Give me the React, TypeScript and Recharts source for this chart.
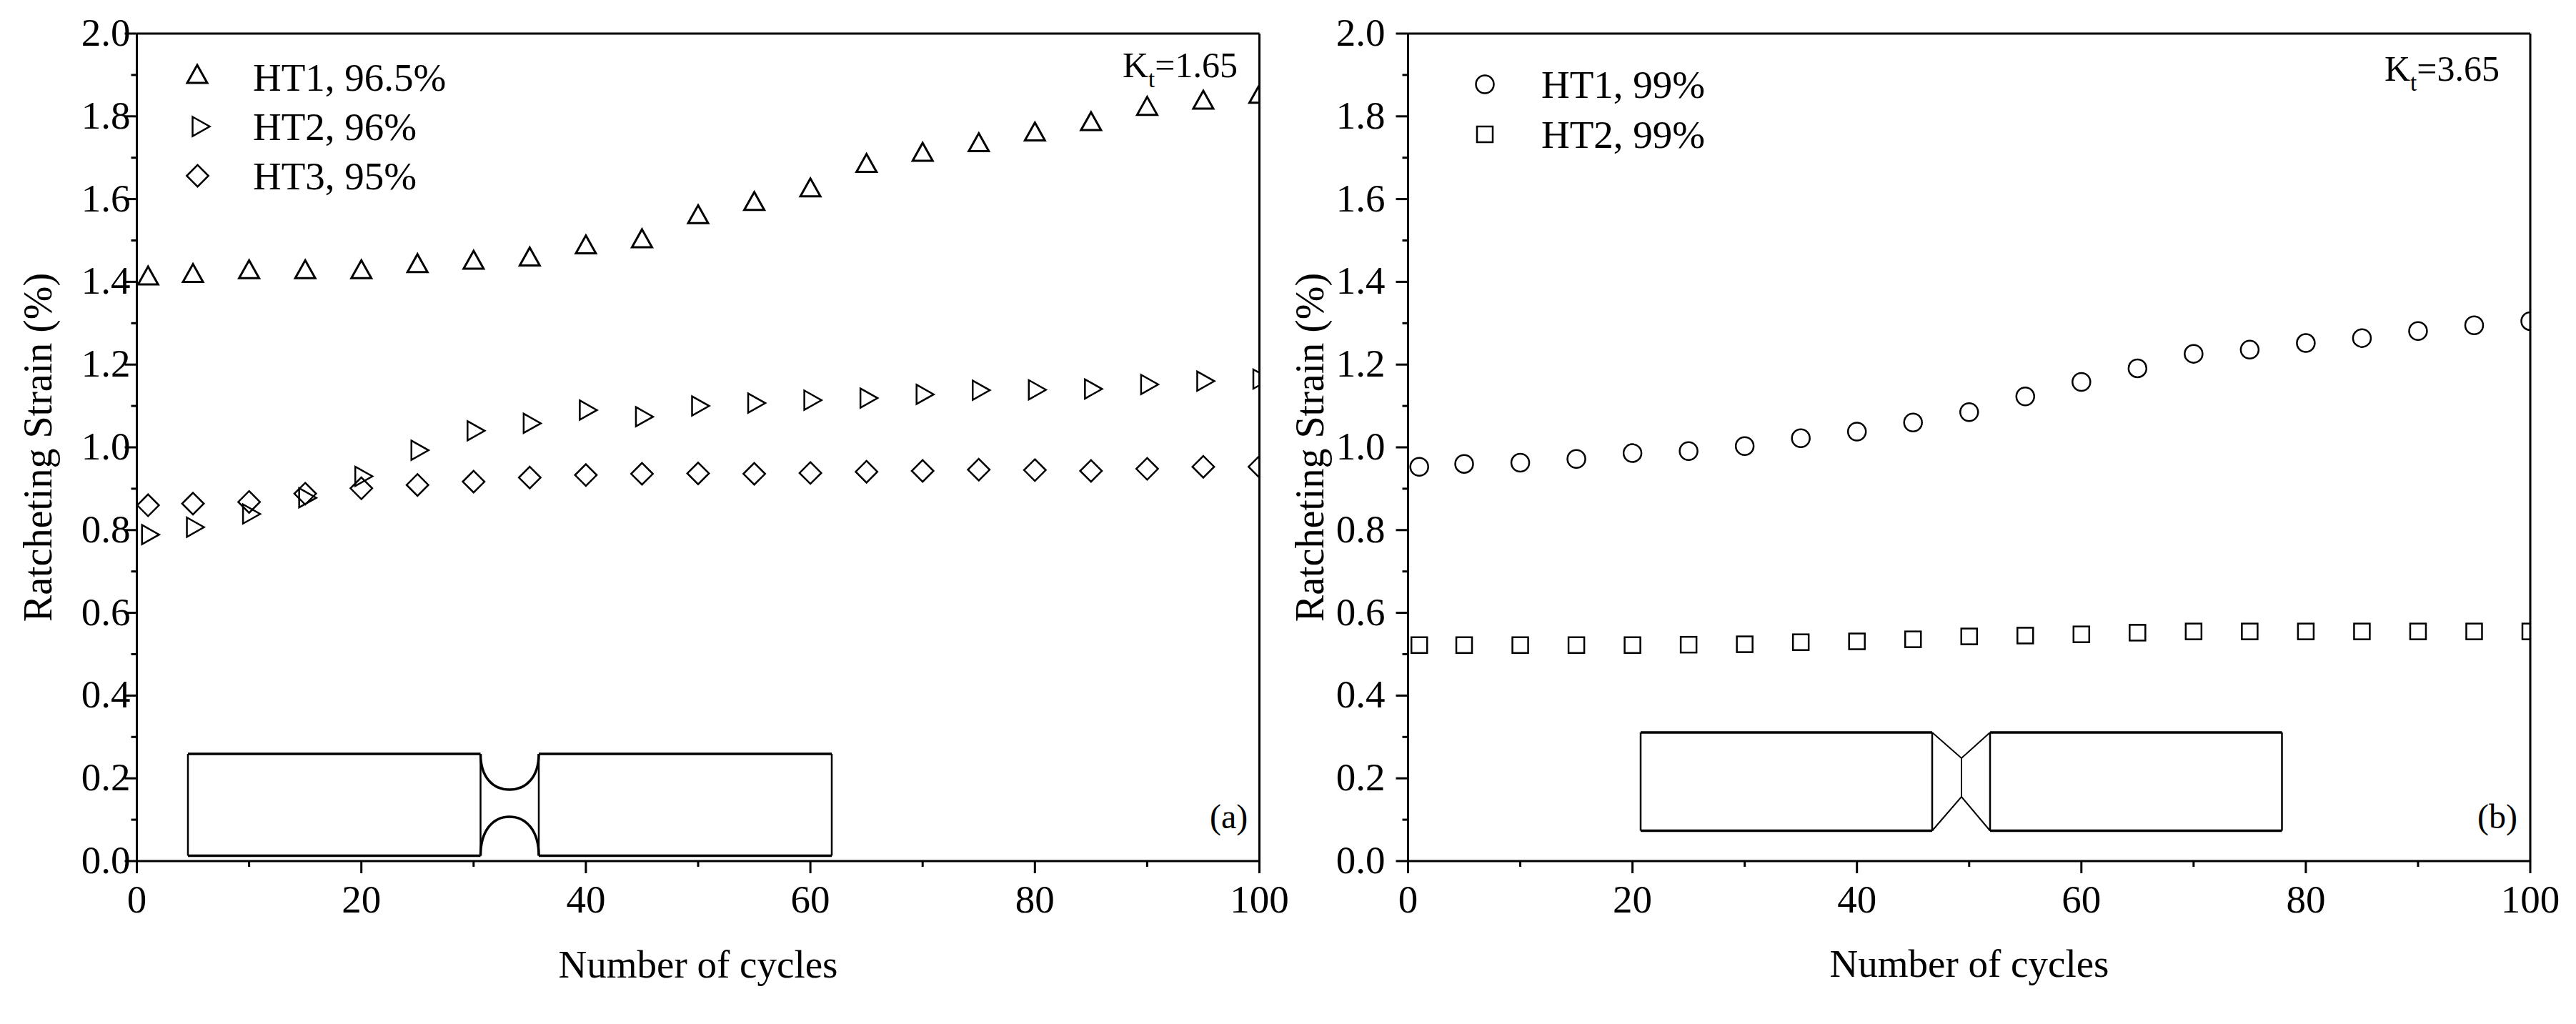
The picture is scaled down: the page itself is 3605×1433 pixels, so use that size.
import React from 'react';
import { ScatterChart, Scatter, XAxis, YAxis, ReferenceLine } from 'recharts';

const cycles = [1, 5, 10, 15, 20, 25, 30, 35, 40, 45, 50, 55, 60, 65, 70, 75, 80, 85, 90, 95, 100];

// panel (a), Kt=1.65
const ht1A = [1.411, 1.417, 1.426, 1.426, 1.426, 1.441, 1.449, 1.457, 1.486, 1.501, 1.559, 1.591, 1.624, 1.683, 1.71, 1.733, 1.759, 1.784, 1.821, 1.836, 1.85];
const ht2A = [0.789, 0.807, 0.839, 0.878, 0.93, 0.993, 1.04, 1.058, 1.09, 1.074, 1.1, 1.107, 1.114, 1.119, 1.128, 1.138, 1.139, 1.141, 1.152, 1.16, 1.165];
const ht3A = [0.86, 0.864, 0.868, 0.888, 0.901, 0.909, 0.917, 0.927, 0.933, 0.936, 0.937, 0.936, 0.938, 0.941, 0.943, 0.946, 0.945, 0.943, 0.948, 0.953, 0.953];

// panel (b), Kt=3.65
const ht1B = [0.953, 0.96, 0.963, 0.972, 0.986, 0.991, 1.003, 1.022, 1.038, 1.06, 1.085, 1.123, 1.158, 1.191, 1.226, 1.236, 1.252, 1.264, 1.281, 1.295, 1.305];
const ht2B = [0.522, 0.522, 0.522, 0.522, 0.522, 0.523, 0.524, 0.529, 0.531, 0.536, 0.543, 0.545, 0.548, 0.552, 0.555, 0.555, 0.555, 0.555, 0.555, 0.555, 0.555];

const xTicks = [0, 10, 20, 30, 40, 50, 60, 70, 80, 90, 100];
const xLabels = [0, 20, 40, 60, 80, 100];
const yTicks = [0, 0.1, 0.2, 0.3, 0.4, 0.5, 0.6, 0.7, 0.8, 0.9, 1, 1.1, 1.2, 1.3, 1.4, 1.5, 1.6, 1.7, 1.8, 1.9, 2];
const yLabels = [0, 0.2, 0.4, 0.6, 0.8, 1, 1.2, 1.4, 1.6, 1.8, 2];

const legendA = ['HT1, 96.5%', 'HT2, 96%', 'HT3, 95%'];
const legendB = ['HT1, 99%', 'HT2, 99%'];

const FONT = '"Liberation Serif", "Times New Roman", serif';
const HEIGHT = 1433;

const points = (values: number[]) => values.map((y, i) => ({ x: cycles[i], y }));

const UpTriangle = ({ cx, cy }: any) => (
    <path d="M0,-15 L14,10 L-14,10 Z" transform={`translate(${cx},${cy})`} fill="none" stroke="#000" strokeWidth={3} />
);
const RightTriangle = ({ cx, cy }: any) => (
    <path d="M-8.5,-13.5 L15.5,0 L-8.5,13.5 Z" transform={`translate(${cx},${cy})`} fill="none" stroke="#000" strokeWidth={2.5} />
);
const Diamond = ({ cx, cy }: any) => (
    <path d="M0,-15.2 L15.2,0 L0,15.2 L-15.2,0 Z" transform={`translate(${cx},${cy})`} fill="none" stroke="#000" strokeWidth={2.5} />
);
const Circle = ({ cx, cy }: any) => <circle cx={cx} cy={cy} r={12.5} fill="none" stroke="#000" strokeWidth={2.5} />;
const Square = ({ cx, cy }: any) => (
    <rect x={cx - 11} y={cy - 11} width={22} height={22} fill="none" stroke="#000" strokeWidth={2.5} />
);

const XTick = ({ x, y, payload }: any) => {
    const major = xLabels.includes(payload.value);
    return (
        <g>
            <line x1={x} x2={x} y1={y} y2={y + (major ? 17 : 8)} stroke="#000" strokeWidth={3} />
            {major && (
                <text x={x} y={y + 72} textAnchor="middle" fontFamily={FONT} fontSize={55} fill="#000">
                    {payload.value}
                </text>
            )}
        </g>
    );
};

const YTick = ({ x, y, payload, gap }: any) => {
    const major = yLabels.includes(payload.value);
    return (
        <g>
            <line x1={x} x2={x - (major ? 17 : 8)} y1={y} y2={y} stroke="#000" strokeWidth={3} />
            {major && (
                <text x={x - gap} y={y + 17} textAnchor="end" fontFamily={FONT} fontSize={55} fill="#000">
                    {payload.value.toFixed(1)}
                </text>
            )}
        </g>
    );
};

const Txt = ({ children, ...rest }: any) => (
    <text fontFamily={FONT} fontSize={55} fill="#000" {...rest}>
        {children}
    </text>
);

const Frame = ({ width, left, right, gap, children }: any) => (
    <ScatterChart width={width} height={HEIGHT} margin={{ top: 47, left: 0, right: width - right, bottom: 0 }}>
        <XAxis
            dataKey="x"
            type="number"
            domain={[0, 100]}
            ticks={xTicks}
            interval={0}
            allowDataOverflow
            height={HEIGHT - 1205}
            tickSize={0}
            tickMargin={0}
            tickLine={false}
            axisLine={{ stroke: '#000', strokeWidth: 3 }}
            tick={<XTick />}
        />
        <YAxis
            dataKey="y"
            type="number"
            domain={[0, 2]}
            ticks={yTicks}
            interval={0}
            allowDataOverflow
            width={left}
            tickSize={0}
            tickMargin={0}
            tickLine={false}
            axisLine={{ stroke: '#000', strokeWidth: 3 }}
            tick={<YTick gap={gap} />}
        />
        <ReferenceLine y={2} stroke="#000" strokeWidth={3} />
        <ReferenceLine x={100} stroke="#000" strokeWidth={3} />
        {children}
    </ScatterChart>
);

export default function App() {
    return (
        <div style={{ position: 'absolute', left: 0, top: 0, width: 3605, height: HEIGHT, overflow: 'hidden', background: '#fff' }}>
            {/* (a) */}
            <div style={{ position: 'absolute', left: 0, top: 0 }}>
                <Frame width={1810} left={191.5} right={1762.5} gap={9}>
                    <Scatter name="HT1" data={points(ht1A)} shape={<UpTriangle />} isAnimationActive={false} />
                    <Scatter name="HT2" data={points(ht2A)} shape={<RightTriangle />} isAnimationActive={false} />
                    <Scatter name="HT3" data={points(ht3A)} shape={<Diamond />} isAnimationActive={false} />

                    <UpTriangle cx={276} cy={106} />
                    <RightTriangle cx={278} cy={177} />
                    <Diamond cx={276.5} cy={246} />
                    <Txt x={354} y={127}>{legendA[0]}</Txt>
                    <Txt x={354} y={196}>{legendA[1]}</Txt>
                    <Txt x={354} y={265}>{legendA[2]}</Txt>

                    <Txt x={1571} y={108} fontSize={50}>
                        K<tspan fontSize={33} dy={14}>t</tspan><tspan dy={-14}>=1.65</tspan>
                    </Txt>
                    <Txt x={1693} y={1159} fontSize={48}>(a)</Txt>

                    <Txt x={977} y={1368} textAnchor="middle">Number of cycles</Txt>
                    <Txt x={72} y={626} textAnchor="middle" fontSize={56} transform="rotate(-90 72 626)">Ratcheting Strain (%)</Txt>

                    {/* specimen sketch */}
                    <g fill="none" stroke="#000">
                        <path d="M263,1055 H672.5 M263,1197.5 H672.5 M754,1055 H1164 M754,1197.5 H1164" strokeWidth={3.5} />
                        <path d="M263,1055 V1197.5 M672.5,1055 V1197.5 M754,1055 V1197.5 M1164,1055 V1197.5" strokeWidth={2.5} />
                        <path d="M672.5,1055 C672.5,1088 690,1105 713,1105 C736,1105 754,1088 754,1055" strokeWidth={3.5} />
                        <path d="M672.5,1197.5 C672.5,1162 690,1143 713,1143 C736,1143 754,1162 754,1197.5" strokeWidth={3.5} />
                    </g>
                </Frame>
            </div>

            {/* (b) */}
            <div style={{ position: 'absolute', left: 1800, top: 0 }}>
                <Frame width={1805} left={170.5} right={1741} gap={32}>
                    <Scatter name="HT1" data={points(ht1B)} shape={<Circle />} isAnimationActive={false} />
                    <Scatter name="HT2" data={points(ht2B)} shape={<Square />} isAnimationActive={false} />

                    <Circle cx={278} cy={118} />
                    <Square cx={278} cy={188} />
                    <Txt x={357} y={137}>{legendB[0]}</Txt>
                    <Txt x={357} y={207}>{legendB[1]}</Txt>

                    <Txt x={1537} y={113} fontSize={50}>
                        K<tspan fontSize={33} dy={14}>t</tspan><tspan dy={-14}>=3.65</tspan>
                    </Txt>
                    <Txt x={1667} y={1159} fontSize={48}>(b)</Txt>

                    <Txt x={956} y={1367} textAnchor="middle">Number of cycles</Txt>
                    <Txt x={52} y={626} textAnchor="middle" fontSize={56} transform="rotate(-90 52 626)">Ratcheting Strain (%)</Txt>

                    <g fill="none" stroke="#000">
                        <path d="M496,1025 H904 M496,1162.5 H904 M985,1025 H1393.5 M985,1162.5 H1393.5" strokeWidth={3.5} />
                        <path d="M496,1025 V1162.5 M904,1025 V1162.5 M985,1025 V1162.5 M1393.5,1025 V1162.5" strokeWidth={2.5} />
                        <path d="M904,1025 L945,1061 L985,1025 M904,1162.5 L945,1115 L985,1162.5 M945,1061 V1115" strokeWidth={2} />
                    </g>
                </Frame>
            </div>
        </div>
    );
}
